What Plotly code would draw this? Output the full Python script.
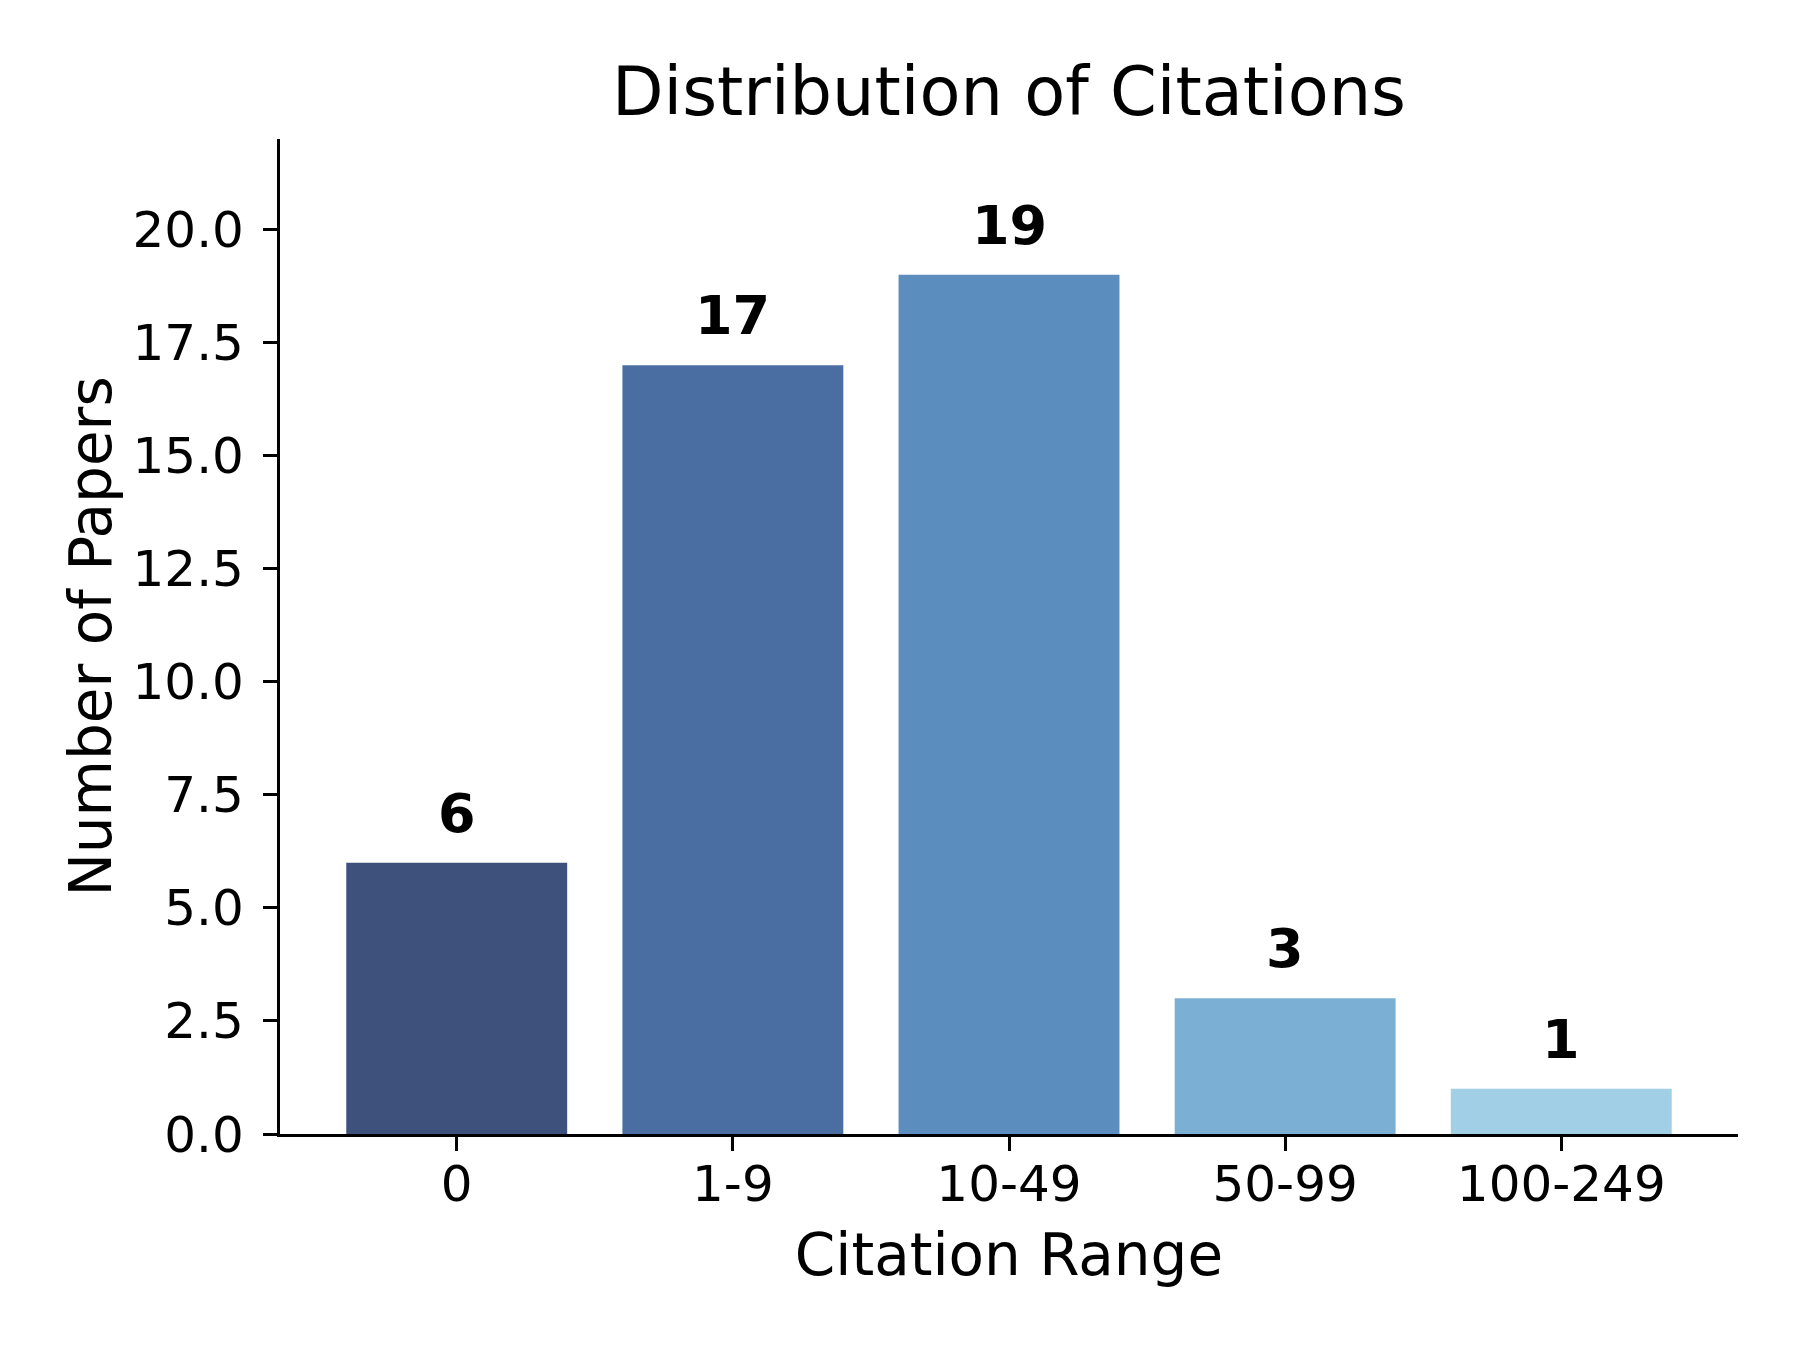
import plotly.graph_objects as go

# Citation counts per range
ranges = ["0", "1-9", "10-49", "50-99", "100-249"]
papers = [6, 17, 19, 3, 1]
bar_colors = ["#3d517c", "#4a6ea2", "#5b8dbf", "#7cafd4", "#a1cfe5"]

FONT = "DejaVu Sans"

fig = go.Figure()

fig.add_trace(go.Bar(
    x=ranges,
    y=papers,
    width=0.8,
    marker=dict(color=bar_colors, line=dict(width=0)),
    showlegend=False,
))

# Bold value labels above each bar
for r, n in zip(ranges, papers):
    fig.add_annotation(
        x=r, y=n, text=f"<b>{n}</b>",
        showarrow=False, yanchor="bottom", yshift=16,
        font=dict(family=FONT, size=54, color="black"),
    )

fig.update_layout(
    width=1800,
    height=1350,
    margin=dict(l=272, r=70, t=131, b=224),
    paper_bgcolor="white",
    plot_bgcolor="white",
    bargap=0.2,
    title=dict(
        text="Distribution of Citations",
        x=0.5, xref="paper", xanchor="center",
        y=1 - 84 / 1350, yref="container", yanchor="middle",
        font=dict(family=FONT, size=67, color="black"),
    ),
)

fig.update_xaxes(
    range=[-0.64, 4.64],
    showline=True, linecolor="black", linewidth=3.3, mirror=False,
    ticks="outside", ticklen=14, tickwidth=3.3, tickcolor="black",
    ticklabelstandoff=-10,
    tickfont=dict(family=FONT, size=50, color="black"),
    showgrid=False, zeroline=False,
    title=dict(text="Citation Range", standoff=23,
               font=dict(family=FONT, size=58, color="black")),
)

fig.update_yaxes(
    range=[0, 22],
    tick0=0, dtick=2.5, tickformat=".1f",
    showline=True, linecolor="black", linewidth=3.3, mirror=False,
    ticks="outside", ticklen=14, tickwidth=3.3, tickcolor="black",
    ticklabelstandoff=9,
    tickfont=dict(family=FONT, size=50, color="black"),
    showgrid=False, zeroline=False,
    title=dict(text="Number of Papers", standoff=3,
               font=dict(family=FONT, size=58, color="black")),
)

fig.write_html("out.html")
